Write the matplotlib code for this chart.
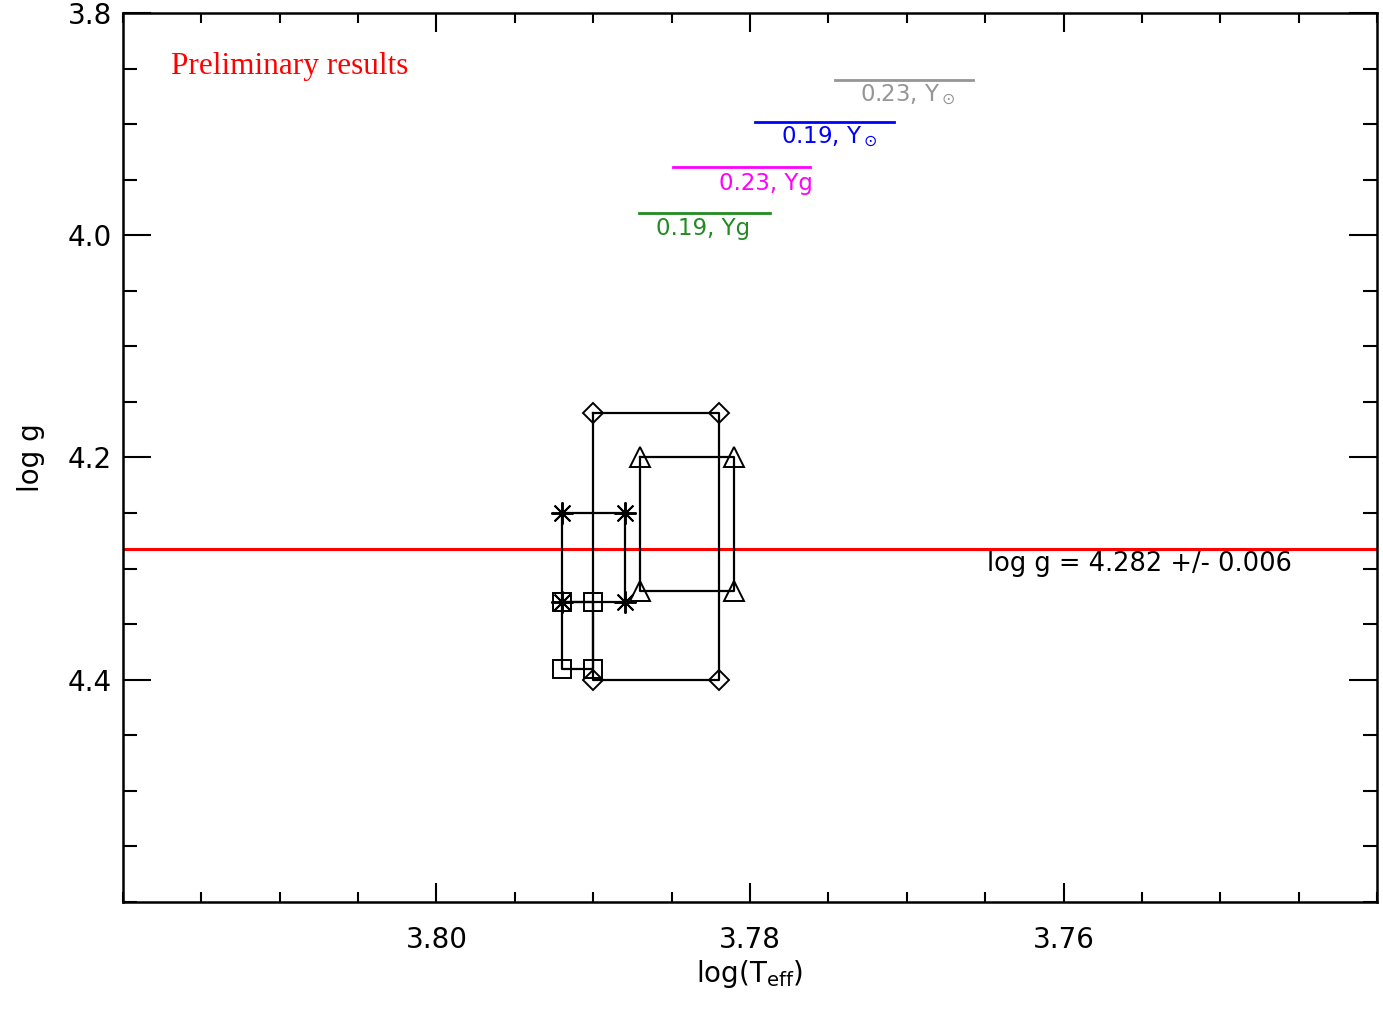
import numpy as np
import matplotlib
matplotlib.use("Agg")
import matplotlib.pyplot as plt
from matplotlib.ticker import MultipleLocator, FixedLocator

# model grid corners (log Teff, log g), one set per symbol
diam_teff = [3.790, 3.782, 3.782, 3.790]
diam_logg = [4.16, 4.16, 4.40, 4.40]
tri_teff = [3.787, 3.781, 3.781, 3.787]
tri_logg = [4.20, 4.20, 4.32, 4.32]
ast_teff = [3.792, 3.788, 3.788, 3.792]
ast_logg = [4.25, 4.25, 4.33, 4.33]
sq_teff = [3.792, 3.790, 3.790, 3.792]
sq_logg = [4.33, 4.33, 4.39, 4.39]

logg_mean = 4.282
logg_err = 0.006

# labelled colour keys: label, colour, x range of bar, y of bar
key_labels = ["0.23, Y$_\\odot$", "0.19, Y$_\\odot$", "0.23, Yg", "0.19, Yg"]
key_colors = ["#969696", "#0000ff", "#ff00ff", "#228b22"]
key_x0 = [3.7746, 3.7797, 3.7849, 3.7871]
key_x1 = [3.7658, 3.7708, 3.7762, 3.7787]
key_y = [3.860, 3.898, 3.939, 3.980]
key_tx = [3.7730, 3.7780, 3.7820, 3.7860]

fig = plt.figure(figsize=(13.83, 10.10), dpi=100)
ax = fig.add_axes([0.0889, 0.107, 0.9068, 0.8801])

ax.axhline(logg_mean, color="red", lw=2.2, zorder=1)


def closed(a):
    return list(a) + [a[0]]


common = dict(color="black", lw=1.6, mfc="none", mec="black", mew=1.4, zorder=3)
ax.plot(closed(diam_teff), closed(diam_logg), marker="D", ms=10, markevery=[0, 1, 2, 3], **common)
ax.plot(closed(tri_teff), closed(tri_logg), marker="^", ms=14, markevery=[0, 1, 2, 3], **common)
ax.plot(closed(ast_teff), closed(ast_logg), marker=(8, 2, 0), ms=16, markevery=[0, 1, 2, 3], **common)
ax.plot(closed(sq_teff), closed(sq_logg), marker="s", ms=13, markevery=[0, 1, 2, 3], **common)

for lab, c, x0, x1, y, tx in zip(key_labels, key_colors, key_x0, key_x1, key_y, key_tx):
    ax.plot([x0, x1], [y, y], color=c, lw=2)
    ax.text(tx, y + 0.014, lab, color=c, fontsize=16.5, ha="left", va="center")

ax.text(3.7649, logg_mean + 0.014, f"log g = {logg_mean:.3f} +/- {logg_err:.3f}",
        fontsize=18.5, ha="left", va="center")

ax.text(0.038, 0.94, "Preliminary results", transform=ax.transAxes, color="red",
        fontsize=22.5, family="Liberation Serif", ha="left", va="center")

ax.set_xlim(3.82, 3.74)
ax.set_ylim(4.6, 3.8)

ax.xaxis.set_major_locator(FixedLocator([3.80, 3.78, 3.76]))
ax.xaxis.set_minor_locator(MultipleLocator(0.005))
ax.yaxis.set_major_locator(FixedLocator([3.8, 4.0, 4.2, 4.4]))
ax.yaxis.set_minor_locator(MultipleLocator(0.05))
ax.set_xticklabels(["3.80", "3.78", "3.76"])
ax.set_yticklabels(["3.8", "4.0", "4.2", "4.4"])

ax.tick_params(which="both", direction="in", top=True, right=True, width=1.5, labelsize=20)
ax.tick_params(axis="x", which="major", length=13.5, pad=17)
ax.tick_params(axis="x", which="minor", length=7)
ax.tick_params(axis="y", which="major", length=20, pad=8)
ax.tick_params(axis="y", which="minor", length=10)
for s in ax.spines.values():
    s.set_linewidth(1.8)

ax.set_xlabel("log(T$_{\\rm eff}$)", fontsize=20, labelpad=3)
ax.set_ylabel("log g", fontsize=20, labelpad=16)

fig.savefig("out.png", dpi=100)
